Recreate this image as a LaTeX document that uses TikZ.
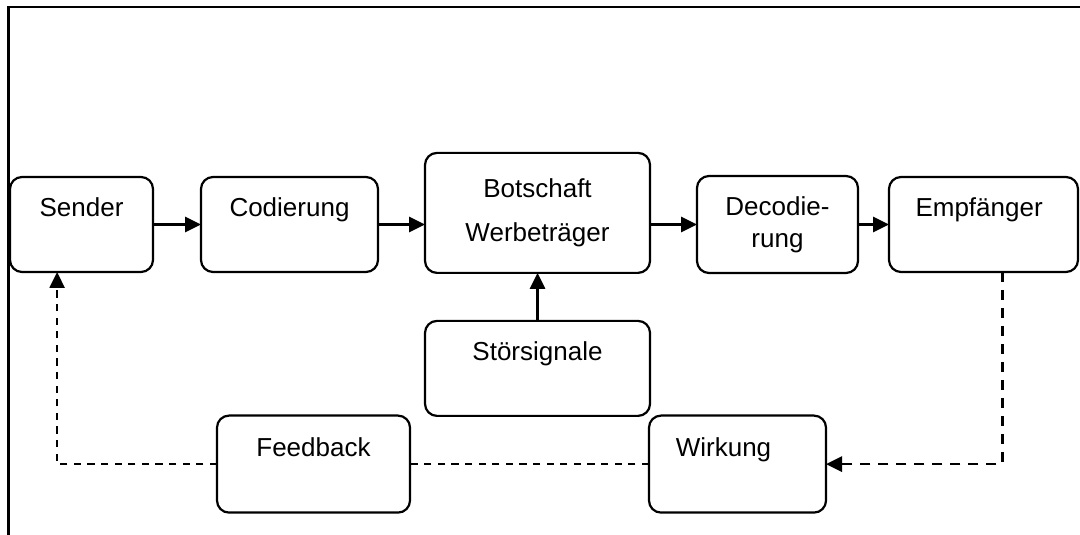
\documentclass[tikz,border=0pt]{standalone}
\usepackage{fontspec}
\setmainfont{Liberation Sans}
\usetikzlibrary{positioning,arrows.meta}

\tikzset{
  box/.style={draw, line width=0.055cm, rounded corners=0.3cm, minimum width=#1,
    minimum height=2.375cm, inner sep=0pt, outer sep=0pt,
    font=\fontsize{18.5}{22.7}\selectfont},
  box/.default=4.425cm,
  hightext/.style={text height=0.5cm, text depth=0.875cm},
  flow/.style={line width=0.06cm, -{Triangle[length=0.4cm,width=0.38cm]}},
  tip/.style={-{Triangle[length=0.4cm,width=0.38cm]}},
  back/.style={line width=0.065cm, dash pattern=on 0.25cm off 0.2cm},
  backthin/.style={line width=0.045cm, dash pattern=on 0.18cm off 0.16cm},
}

\begin{document}
\begin{tikzpicture}
	\useasboundingbox (0,0) rectangle (27,13.375);
	\draw [line width=0.06cm] (0.21,0) |- (27,13.2);
	% top row
	\node [box=3.575cm, hightext] (S) at (2.0375,7.7625) {Sender};
	\node [box, hightext, right=1.2cm of S] (C) {Codierung};
	\node [box=5.625cm, minimum height=3cm, align=center, right=1.175cm of C, yshift=0.29cm] (B) {Botschaft\\[9pt]Werbeträger};
	\node [box=4.025cm, minimum height=2.425cm, align=center, right=1.175cm of B, yshift=-0.29cm] (D) {Decodie-\\rung};
	\node [box=4.725cm, hightext, right=0.775cm of D] (E) {Empfänger\hspace*{0.22cm}};
	% noise and feedback
	\node [box=5.625cm, hightext, below=1.2cm of B] (N) {Störsignale};
	\node [box=4.825cm, minimum height=2.425cm, hightext, below=3.59cm of C, xshift=0.6cm] (F) {Feedback};
	\node [box, minimum height=2.425cm, hightext, right=5.975cm of F] (W) {Wirkung\hspace*{0.7cm}};
	\draw [flow] (S) -- (C);
	\draw [flow] (C) -- (C -| B.west);
	\draw [flow] (B.east |- D) -- (D);
	\draw [flow] (D) -- (E);
	\draw [flow] (N) -- (B);
	\draw [back, tip] ([xshift=0.47cm]E.south) |- (W);
	\draw [backthin] (W) -- (F);
	\draw [backthin, tip] (F) -| ([xshift=-0.61cm]S.south);
\end{tikzpicture}
\end{document}
